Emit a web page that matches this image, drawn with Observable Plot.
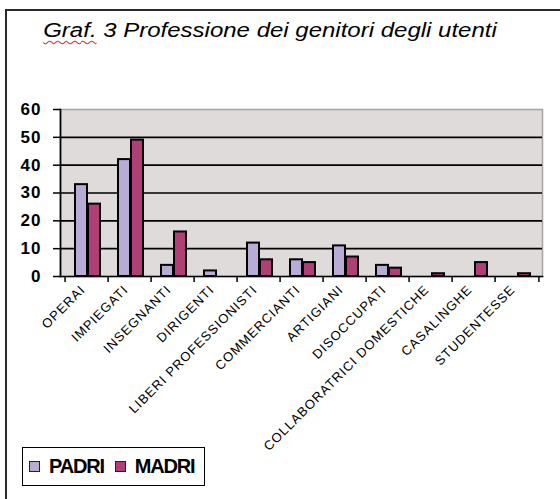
<!DOCTYPE html>
<html><head><meta charset="utf-8">
<script src="https://cdn.jsdelivr.net/npm/d3@7"></script>
<script src="https://cdn.jsdelivr.net/npm/@observablehq/plot@0.6"></script>
<style>
body{margin:0;background:#fff;}
#wrap{position:relative;width:560px;height:499px;overflow:hidden;font-family:"Liberation Sans",Arial,sans-serif;background:#fff;}
#frame{position:absolute;left:5px;top:9px;width:620px;height:620px;border-left:2px solid #2a2a2a;border-top:2px solid #2a2a2a;}
#chart{position:absolute;left:0;top:0;}
#title{position:absolute;left:-10px;width:560px;top:19px;text-align:center;font-style:italic;font-size:20px;color:#000;white-space:nowrap;transform:scaleX(1.2);transform-origin:280px 0;}
#title .sp{text-decoration:underline wavy #e03030;text-decoration-thickness:1px;text-underline-offset:3px;}
#legend{position:absolute;left:22px;top:447px;width:183px;height:39px;border:1.5px solid #000;box-sizing:border-box;display:flex;align-items:center;padding-left:6px;font-weight:bold;font-size:20px;letter-spacing:-1.2px;background:#fff;}
#legend .item{display:flex;align-items:center;margin-right:11px;}
#legend .sw{width:9px;height:9px;border:1.3px solid #222;margin-right:9px;}
#chart svg g[aria-label="x-axis tick label"] text{letter-spacing:1px;}
#chart svg g[aria-label="y-axis tick label"] text{letter-spacing:1px;}
</style></head>
<body>
<div id="wrap">
  <div id="chart"></div>
  <div id="frame"></div>
  <div id="title"><span class="sp">Graf.</span> 3 Professione dei genitori degli utenti</div>
  <div id="legend"></div>
</div>
<script>
const categories = ["OPERAI","IMPIEGATI","INSEGNANTI","DIRIGENTI","LIBERI PROFESSIONISTI","COMMERCIANTI","ARTIGIANI","DISOCCUPATI","COLLABORATRICI DOMESTICHE","CASALINGHE","STUDENTESSE"];
const padri = [33, 42, 4, 2, 12, 6, 11, 4, 0, 0, 0];
const madri = [26, 49, 16, 0, 6, 5, 7, 3, 1, 5, 1];
const series = ["PADRI", "MADRI"];
const colors = ["#B8ACD7", "#AF3F76"];
const yTicks = [0, 10, 20, 30, 40, 50, 60];

const rows = categories.flatMap((c, i) => [
  {cat: c, series: "PADRI", value: padri[i]},
  {cat: c, series: "MADRI", value: madri[i]}
]);

const W = 560, H = 499, mL = 60, mR = 18, mT = 109, mB = 223;
const bw = (W - mL - mR) / categories.length;

const chart = Plot.plot({
  width: W, height: H,
  marginLeft: mL, marginRight: mR, marginTop: mT, marginBottom: mB,
  style: {fontFamily: "'Liberation Sans', Arial, sans-serif", background: "transparent", color: "#000"},
  x: {domain: categories, padding: 0, label: null},
  y: {domain: [0, 60], label: null},
  color: {domain: series, range: colors},
  marks: [
    Plot.frame({fill: "#DFDBDB", stroke: "#A3A3A3", strokeWidth: 1.5}),
    Plot.gridY(yTicks.filter(d => d > 0 && d < 60), {stroke: "#000", strokeOpacity: 1, strokeWidth: 1.7}),
    Plot.barY(rows.filter(d => d.series === "PADRI" && d.value > 0), {x: "cat", y: "value", fill: "series", stroke: "#000", strokeWidth: 2, insetLeft: 10, insetRight: 21}),
    Plot.barY(rows.filter(d => d.series === "MADRI" && d.value > 0), {x: "cat", y: "value", fill: "series", stroke: "#000", strokeWidth: 2, insetLeft: 23, insetRight: 8}),
    Plot.frame({anchor: "left", stroke: "#000", strokeWidth: 1.7}),
    Plot.frame({anchor: "bottom", stroke: "#000", strokeWidth: 1.7}),
    Plot.axisY(yTicks, {tickSize: 7, tickPadding: 12, fontSize: 17, fontWeight: "bold", stroke: "#000", strokeWidth: 1.5, label: null}),
    Plot.axisX({text: null, tickSize: 6, dx: -bw / 2, strokeWidth: 1.5, label: null}),
    Plot.axisX([categories[categories.length - 1]], {text: null, tickSize: 6, dx: bw / 2, strokeWidth: 1.5, label: null}),
    Plot.axisX({tickSize: 0, tickRotate: -45, fontSize: 13, tickPadding: 11, dx: -4, label: null})
  ]
});
document.getElementById("chart").appendChild(chart);

const legend = document.getElementById("legend");
series.forEach((s, i) => {
  const it = document.createElement("div");
  it.className = "item";
  const sw = document.createElement("div");
  sw.className = "sw";
  sw.style.background = colors[i];
  it.appendChild(sw);
  const t = document.createElement("span");
  t.textContent = s;
  it.appendChild(t);
  legend.appendChild(it);
});
</script>
</body></html>
